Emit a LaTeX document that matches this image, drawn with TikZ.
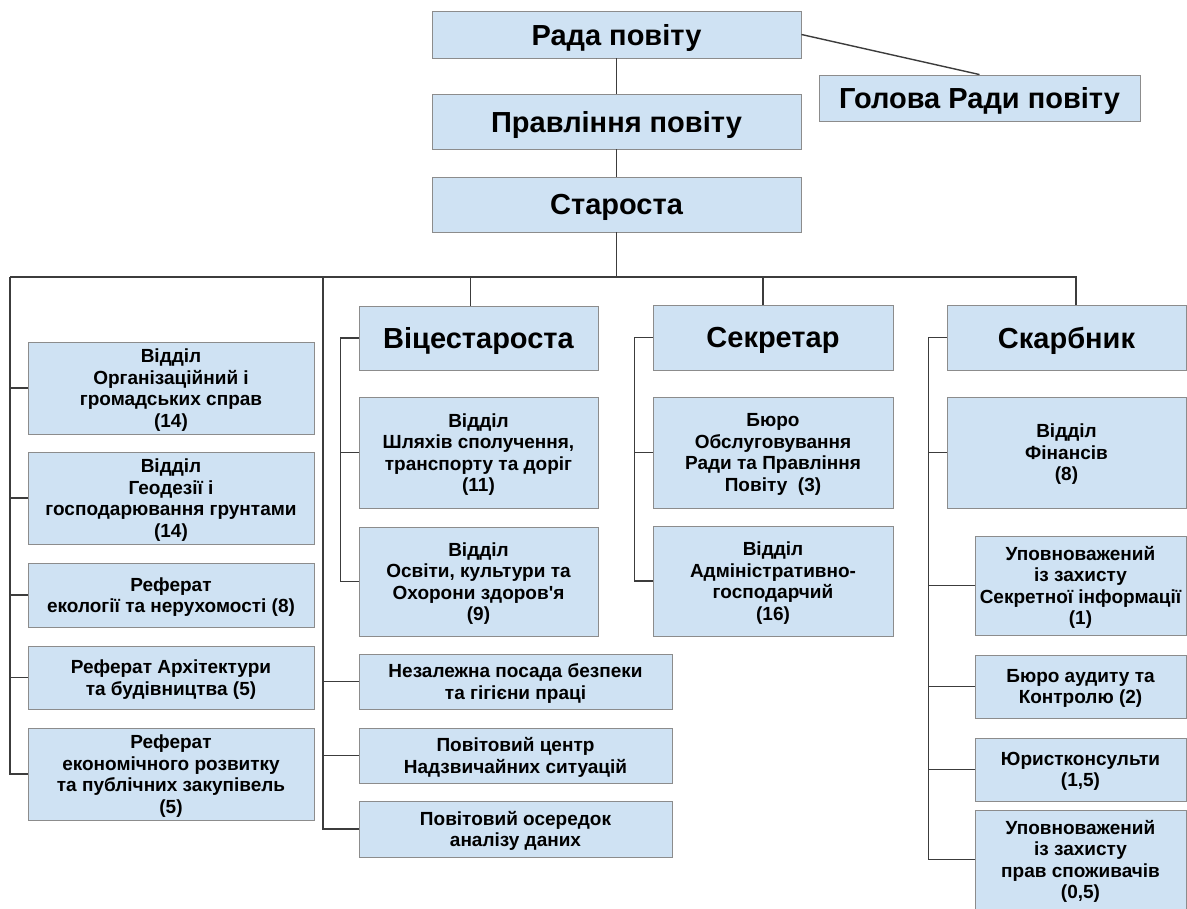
\documentclass[tikz,border=0pt]{standalone}
\usepackage{fontspec}
\setmainfont{Liberation Sans}
\usepackage{tikz}

\definecolor{boxfill}{RGB}{207,226,243}
\definecolor{boxline}{RGB}{140,140,140}
\definecolor{linkgray}{RGB}{60,60,60}

\tikzset{
  unit/.style={draw=boxline, fill=boxfill, line width=0.9pt, inner sep=0pt, align=center,
    text depth=0pt, font=\bfseries\fontsize{19}{21.5}\selectfont},
  head/.style={unit, font=\bfseries\fontsize{29}{32}\selectfont},
  link/.style={draw=linkgray, line width=1.4pt}
}

\begin{document}
\begin{tikzpicture}[x=1pt,y=-1pt]
\useasboundingbox (0,0) rectangle (1187,909);

\node[head, minimum width=369, minimum height=47] (rada) at (616.5,34.5) {Рада повіту};
\node[head, minimum width=321, minimum height=46] (holova) at (979.5,98) {Голова Ради повіту};
\node[head, minimum width=369, minimum height=55] (pravl) at (616.5,121.5) {Правління повіту};
\node[head, minimum width=369, minimum height=55] (star) at (616.5,204.5) {Староста};

\node[head, minimum width=239, minimum height=64] (vice) at (478.5,338) {Віцестароста};
\node[head, minimum width=240, minimum height=65] (sekr) at (773,337.5) {Секретар};
\node[head, minimum width=239, minimum height=65] (skarb) at (1066.5,337.5) {Скарбник};

\node[unit, minimum width=286, minimum height=92] (org) at (171,388) {Відділ\\Організаційний і\\громадських справ\\(14)};
\node[unit, minimum width=286, minimum height=92] (geo) at (171,498) {Відділ\\Геодезії і\\господарювання грунтами\\(14)};
\node[unit, minimum width=286, minimum height=64] (eko) at (171,595) {Реферат\\екології та нерухомості (8)};
\node[unit, minimum width=286, minimum height=63] (arch) at (171,677.5) {Реферат Архітектури\\та будівництва (5)};
\node[unit, minimum width=286, minimum height=92] (econ) at (171,774) {Реферат\\економічного розвитку\\та публічних закупівель\\(5)};

\node[unit, minimum width=239, minimum height=111] (road) at (478.5,452.5) {Відділ\\Шляхів сполучення,\\транспорту та доріг\\(11)};
\node[unit, minimum width=239, minimum height=109] (osv) at (478.5,581.5) {Відділ\\Освіти, культури та\\Охорони здоров\textquotesingle я\\(9)};
\node[unit, minimum width=313, minimum height=55] (bezp) at (515.5,681.5) {Незалежна посада безпеки\\та гігієни праці};
\node[unit, minimum width=313, minimum height=55] (ncentr) at (515.5,755.5) {Повітовий центр\\Надзвичайних ситуацій};
\node[unit, minimum width=313, minimum height=56] (dani) at (515.5,829) {Повітовий осередок\\аналізу даних};

\node[unit, minimum width=240, minimum height=111] (buro) at (773,452.5) {Бюро\\Обслуговування\\Ради та Правління\\Повіту~ (3)};
\node[unit, minimum width=240, minimum height=110] (adm) at (773,581) {Відділ\\Адміністративно-\\господарчий\\(16)};

\node[unit, minimum width=239, minimum height=111] (fin) at (1066.5,452.5) {Відділ\\Фінансів\\(8)};
\node[unit, minimum width=211, minimum height=99] (sekinf) at (1080.5,585.5) {Уповноважений\\із захисту\\Секретної інформації\\(1)};
\node[unit, minimum width=211, minimum height=63] (audit) at (1080.5,686.5) {Бюро аудиту та\\Контролю (2)};
\node[unit, minimum width=211, minimum height=63] (jur) at (1080.5,769.5) {Юристконсульти\\(1,5)};
\node[unit, minimum width=211, minimum height=99] (spoz) at (1080.5,859.5) {Уповноважений\\із захисту\\прав споживачів\\(0,5)};

\coordinate (busL) at (10,277);
\coordinate (busR) at (1076,277);
\coordinate (trunk) at (323,277);

\draw[link] (rada.east) -- (holova.north);
\draw[link] (rada.south) -- (pravl.north);
\draw[link] (pravl.south) -- (star.north);
\draw[link] (star.south) -- (star.south |- busL);
\draw[link] (busL) -- (busR) -- (busR |- skarb.north);
\draw[link] ([xshift=-8]vice.north) -- ([xshift=-8]vice.north |- busL);
\draw[link] ([xshift=-10]sekr.north) -- ([xshift=-10]sekr.north |- busL);

\draw[link] (busL) |- (econ.west);
\foreach \n in {org,geo,eko,arch}
  \draw[link] (\n.west) -- (\n.west -| busL);

\draw[link] (trunk) |- (dani.west);
\foreach \n in {bezp,ncentr}
  \draw[link] (\n.west) -- (\n.west -| trunk);

\draw[link] (vice.west) -- ++(-18,0) coordinate (vb) |- (osv.west);
\draw[link] (road.west) -- (road.west -| vb);
\draw[link] (sekr.west) -- ++(-18,0) coordinate (sb) |- (adm.west);
\draw[link] (buro.west) -- (buro.west -| sb);
\draw[link] (skarb.west) -- ++(-18,0) coordinate (kb) |- (spoz.west);
\foreach \n in {fin,sekinf,audit,jur}
  \draw[link] (\n.west) -- (\n.west -| kb);
\end{tikzpicture}
\end{document}
